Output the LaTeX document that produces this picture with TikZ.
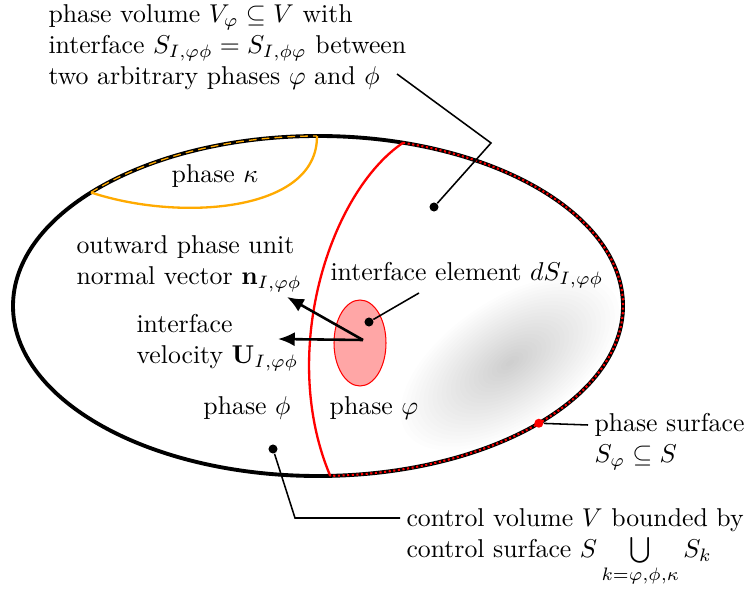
\documentclass[tikz,border=0pt]{standalone}
\usetikzlibrary{arrows.meta}
\definecolor{kappaorange}{RGB}{255,170,0}
\tikzset{
  dotmark/.style={circle, fill, inner sep=0pt, minimum size=3.5pt},
  txt/.style={align=left, inner sep=0pt},
  leader/.style={line width=0.6pt},
  vec/.style={-{Latex[length=6.5pt,width=5.5pt]}, line width=1pt}
}
\begin{document}
\begin{tikzpicture}[x=0.01364cm, y=0.01364cm]
    \useasboundingbox (0,0) rectangle (745,592);

    % 灰色阴影
    \foreach \r in {0.04,0.08,...,1.0}
        \fill[black, opacity=0.006, rotate around={34:(510,229)}] (510,229) ellipse [x radius=130*\r, y radius=66*\r];

    % 控制体
    \coordinate (c) at (318,286);
    \draw[line width=1.5pt] (c) ellipse [x radius=305, y radius=170];
    \path (c) ++(73.8:305 and 170) coordinate (itop);
    \path (c) ++(-87.7:305 and 170) coordinate (ibot);
    \path (c) ++(138.1:305 and 170) coordinate (kleft);
    \path (c) ++(90.2:305 and 170) coordinate (kright);
    \path (c) ++(-43.6:305 and 170) coordinate (sdot);

    % 界面与相表面
    \draw[red, line width=0.9pt] (itop) .. controls (330,400) and (278,240) .. (ibot);
    \draw[red, densely dotted, line width=0.8pt] (itop) arc[start angle=73.8, end angle=-87.7, x radius=305, y radius=170];

    % 相 kappa
    \draw[kappaorange, line width=0.9pt] (kleft) .. controls (180,370) and (318,380) .. (kright);
    \draw[kappaorange, densely dashed, line width=0.5pt] (kleft) arc[start angle=138.1, end angle=90.2, x radius=305, y radius=170];
    \node (kappa) at (215,416) {phase $\kappa$};

    % 界面元
    \draw[red, fill=red!35] (360,249) ellipse [x radius=26, y radius=43];
    \node[dotmark] (dS) at (369,270) {};
    \coordinate (o) at (363,252);
    \coordinate (ntip) at (287,295);
    \coordinate (utip) at (278,253);
    \draw[vec] (o) -- (ntip);
    \draw[vec] (o) -- (utip);

    % 文字
    \node[txt, anchor=north west] (toptxt) at (48,588) {phase volume $V_\varphi \subseteq V$ with\\ interface $S_{I,\varphi\phi} = S_{I,\phi\varphi}$ between\\ two arbitrary phases $\varphi$ and $\phi$};
    \node[txt, anchor=north west] (ntxt) at (76,357) {outward phase unit\\ normal vector $\mathbf{n}_{I,\varphi\phi}$};
    \node[txt, anchor=north west] (utxt) at (136,278) {interface\\ velocity $\mathbf{U}_{I,\varphi\phi}$};
    \node[txt, anchor=north west] (elem) at (330,330) {interface element $dS_{I,\varphi\phi}$};
    \node (phi) at (247,184) {phase $\phi$};
    \node (vphi) at (374,184) {phase $\varphi$};
    \node[txt, anchor=north west] (surf) at (594,179) {phase surface\\ $S_\varphi \subseteq S$};
    \node[txt, anchor=north west] (ctrl) at (406,84) {control volume $V$ bounded by\\ control surface $S \bigcup\limits_{k=\varphi,\phi,\kappa} S_k$};

    % 引线
    \node[dotmark] (vdot) at (434,385) {};
    \coordinate (vstart) at (397,518);
    \coordinate (vbend) at (491,449);
    \draw[leader] (vstart) -- (vbend) -- (vdot);
    \coordinate (dSend) at (419,299);
    \draw[leader] (dS) -- (dSend);
    \node[circle, fill=red, inner sep=0pt, minimum size=3.5pt] (sdotn) at (sdot) {};
    \coordinate (send) at (588,167);
    \draw[leader] (sdotn) -- (send);
    \node[dotmark] (cdot) at (273,143) {};
    \coordinate (cbend) at (295,74);
    \coordinate (cend) at (400,74);
    \draw[leader] (cdot) -- (cbend) -- (cend);
\end{tikzpicture}
\end{document}
